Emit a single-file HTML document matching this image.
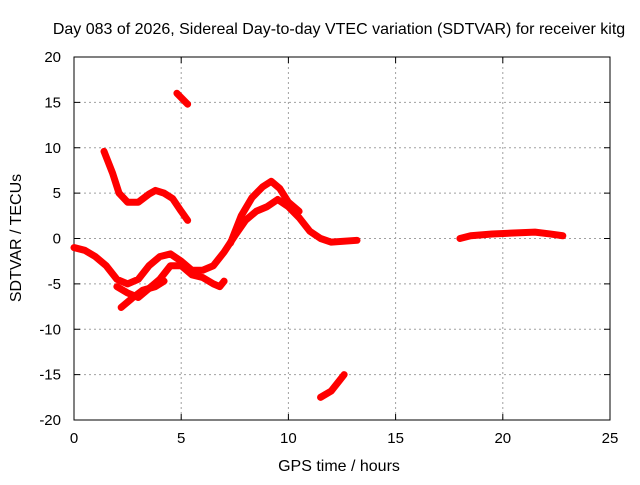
<!DOCTYPE html>
<html><head><meta charset="utf-8"><style>
body{margin:0;background:#fff}
svg text{font-family:"Liberation Sans",sans-serif;font-size:15px;fill:#000}
</style></head><body>
<svg width="640" height="480" xmlns="http://www.w3.org/2000/svg">
<rect width="640" height="480" fill="#fff"/>
<text x="339" y="34" text-anchor="middle" style="font-size:16px">Day 083 of 2026, Sidereal Day-to-day VTEC variation (SDTVAR) for receiver kitg</text>
<g id="grid"></g>
<g id="axes"></g>
<g id="series"></g>
<text x="339" y="471" text-anchor="middle" style="font-size:16px">GPS time / hours</text>
<text transform="translate(21,238) rotate(-90)" text-anchor="middle" style="font-size:16px">SDTVAR / TECUs</text>
</svg>
<script>
const xTicks=[0,5,10,15,20,25];
const yTicks=[-20,-15,-10,-5,0,5,10,15,20];
const traceA=[[0,-1],[0.5,-1.3],[1,-2],[1.5,-3],[2,-4.5],[2.5,-5],[3,-4.5],[3.5,-3],[4,-2],[4.5,-1.7],[5,-2.5],[5.5,-3.5],[6,-3.5],[6.5,-3],[7,-1.5],[7.5,0.3],[8,2],[8.5,3],[9,3.5],[9.5,4.3],[10,3.5],[10.5,2.3],[11,0.8],[11.5,0],[12,-0.4],[13.2,-0.2]];
const traceB=[[2,-5.3],[2.5,-6],[3,-6.5],[3.5,-5.5],[4,-4.5],[4.5,-3],[5,-3],[5.5,-4],[6,-4.3],[6.5,-5],[6.8,-5.3],[7,-4.7]];
const traceB2=[[2.2,-7.6],[2.7,-6.6],[3.2,-5.7],[3.8,-5.3],[4.2,-4.7]];
const traceC=[[1.4,9.6],[1.8,7.2],[2.1,5],[2.5,4],[3,4],[3.5,4.9],[3.8,5.3],[4.2,5],[4.6,4.4],[5,3],[5.3,2]];
const traceUp=[[7.3,-0.5],[7.8,2.5],[8.3,4.5],[8.8,5.7],[9.2,6.3],[9.6,5.5],[10,4],[10.5,3]];
const traceD=[[4.8,16],[5.3,14.8]];
const traceE=[[11.5,-17.5],[12,-16.8],[12.6,-15]];
const traceF=[[18,0],[18.5,0.3],[19.5,0.5],[20.5,0.6],[21.5,0.7],[22.2,0.5],[22.8,0.3]];
const traces=[traceA,traceB,traceB2,traceC,traceUp,traceD,traceE,traceF];
const X0=74,X1=610,Y0=420,Y1=57,NS="http://www.w3.org/2000/svg";
const sx=v=>X0+(v-0)/25*(X1-X0);
const sy=v=>Y0-(v+20)/40*(Y0-Y1);
function mk(t,a,p){const e=document.createElementNS(NS,t);for(const k in a)e.setAttribute(k,a[k]);p.appendChild(e);return e;}
const grid=document.getElementById('grid'),axes=document.getElementById('axes'),series=document.getElementById('series');
xTicks.forEach(t=>{
  if(t>0&&t<25){const l=mk('line',{x1:sx(t),x2:sx(t),y1:Y1,y2:Y0,stroke:'#a0a0a0','stroke-dasharray':'2,3'},grid);
  
  }
  mk('line',{x1:sx(t),x2:sx(t),y1:Y0,y2:Y0-6,stroke:'#000'},axes);
  mk('line',{x1:sx(t),x2:sx(t),y1:Y1,y2:Y1+6,stroke:'#000'},axes);
  const tx=mk('text',{x:sx(t),y:Y0+23,'text-anchor':'middle'},axes);tx.textContent=t;
  
  
});
yTicks.forEach(t=>{
  if(t>-20&&t<20){const l=mk('line',{x1:X0,x2:X1,y1:sy(t),y2:sy(t),stroke:'#a0a0a0','stroke-dasharray':'2,3'},grid);
  
  }
  mk('line',{x1:X0,x2:X0+6,y1:sy(t),y2:sy(t),stroke:'#000'},axes);
  mk('line',{x1:X1,x2:X1-6,y1:sy(t),y2:sy(t),stroke:'#000'},axes);
  const tx=mk('text',{x:X0-13,y:sy(t)+5,'text-anchor':'end'},axes);tx.textContent=t;
  
  
});
mk('rect',{x:X0,y:Y1,width:X1-X0,height:Y0-Y1,fill:'none',stroke:'#000'},axes);
traces.forEach(tr=>{
  const p=mk('polyline',{points:tr.map(d=>sx(d[0])+','+sy(d[1])).join(' '),fill:'none',stroke:'#f00','stroke-width':7,'stroke-linejoin':'round','stroke-linecap':'round'},series);
  
  
});
</script>
</body></html>
